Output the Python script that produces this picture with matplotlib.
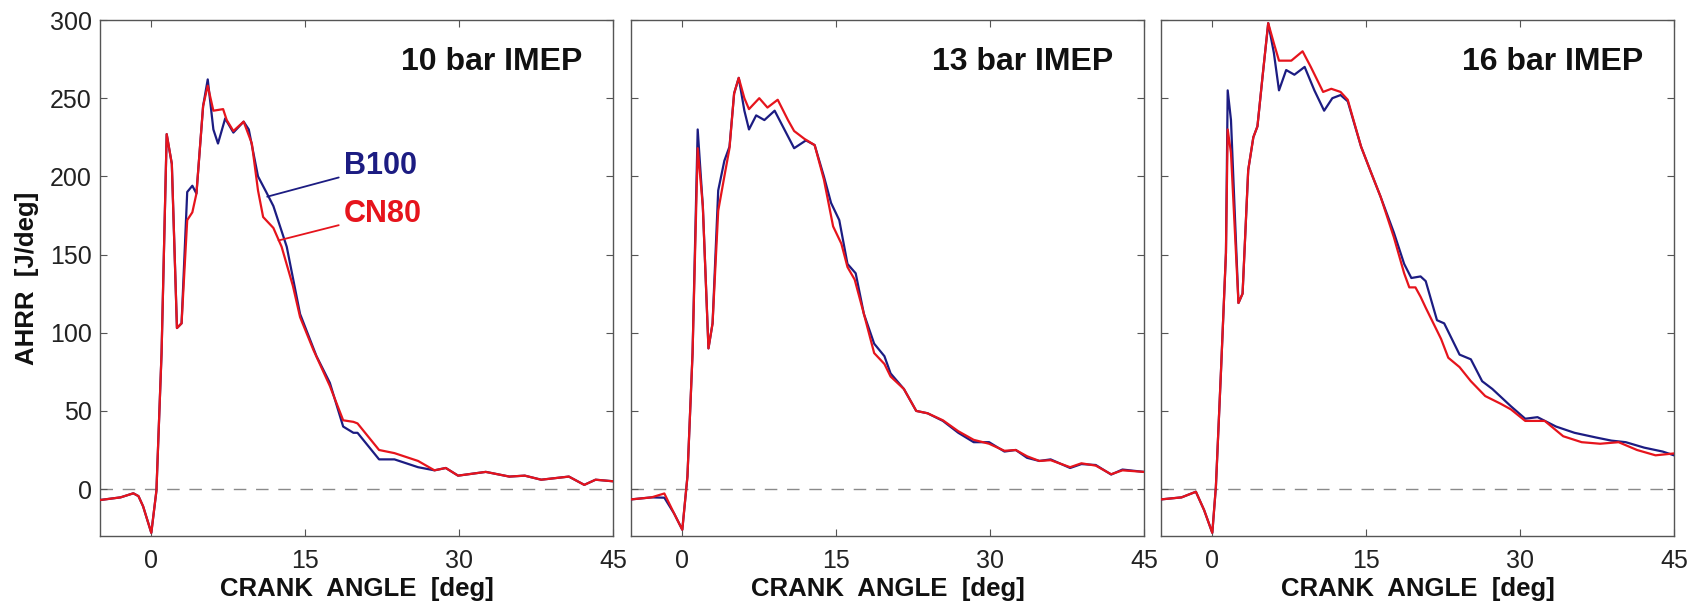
import matplotlib
matplotlib.use("Agg")
import matplotlib.pyplot as plt

plt.rcParams['font.family'] = ['Liberation Sans', 'DejaVu Sans']

BLUE, RED = "#1c1c82", "#e6141c"
SPINE = "#555555"

# ---- 10 bar IMEP ----------------------------------------------------------
ca10_b = [-5, -3, -1.75, -1.25, -0.8, 0, 0.5, 1.0, 1.5, 2.0, 2.5, 2.95, 3.5, 4.0, 4.4,
          5.05, 5.5, 6.05, 6.5, 7.2, 8.0, 9.0, 9.5, 10.4, 11.2, 11.9, 13.2, 14.5, 16.1,
          17.4, 18.7, 19.7, 20.1, 22.2, 23.7, 26.0, 27.6, 28.7, 29.9, 32.6, 34.9, 36.4,
          38.0, 40.7, 42.2, 43.3, 45]
hr10_b = [-7, -5.3, -2.7, -4.5, -11, -28, -1, 87, 227, 208, 103, 106, 190, 194, 189,
          245, 262, 230, 221, 237, 228, 235, 230, 200, 190, 181, 155, 112, 85,
          68, 40, 36, 36, 19, 19, 14, 12, 13.5, 8.6, 11, 8, 8.6,
          6, 8, 2.7, 6, 5]
ca10_r = [-5, -3, -1.75, -1.25, -0.8, 0, 0.5, 1.0, 1.5, 2.0, 2.5, 2.95, 3.5, 4.0, 4.4,
          5.05, 5.5, 6.05, 7.0, 7.35, 8.0, 9.0, 9.8, 10.4, 10.9, 11.9, 12.7, 13.8, 14.5,
          15.8, 17.4, 18.7, 19.7, 20.1, 22.2, 23.7, 26.0, 27.6, 28.7, 29.9, 32.6, 34.9,
          36.4, 38.0, 40.7, 42.2, 43.3, 45]
hr10_r = [-7, -5.3, -2.7, -4.5, -11, -28, -1, 87, 227, 208, 103, 106, 172, 177, 189,
          245, 258, 242, 243, 236, 229, 235, 221, 191, 174, 167, 155, 130, 110,
          89, 66, 44, 43, 42, 25, 23, 18, 12, 13.5, 8.6, 11, 8,
          8.6, 6, 8, 2.7, 6, 5]

# ---- 13 bar IMEP ----------------------------------------------------------
ca13_b = [-5, -3, -1.75, -0.8, 0, 0.5, 1.0, 1.5, 2.0, 2.55, 2.95, 3.5, 4.1, 4.6, 5.05,
          5.5, 6.05, 6.5, 7.2, 8.0, 9.0, 9.95, 10.9, 12.05, 12.9, 13.8, 14.5, 15.3, 16.1,
          16.9, 17.7, 18.7, 19.7, 20.3, 21.6, 22.8, 23.9, 25.4, 26.9, 28.4, 29.9, 31.4,
          32.5, 33.6, 34.8, 35.9, 37.8, 38.9, 40.3, 41.8, 42.9, 45]
hr13_b = [-6.6, -5.3, -5.5, -15.6, -26, 8, 87, 230, 181, 90, 106, 191, 210, 219, 253,
          263, 242, 230, 239, 236, 242, 230, 218, 223, 220, 200, 183, 172, 144,
          138, 112, 93, 85, 74, 64, 50, 48.5, 43.6, 36, 30, 30, 24,
          25, 20, 18, 19, 13.5, 16, 15.4, 9.3, 12.5, 11]
ca13_r = [-5, -3, -1.75, -0.8, 0, 0.5, 1.0, 1.5, 2.0, 2.55, 2.95, 3.5, 4.1, 4.6, 5.05,
          5.5, 6.05, 6.5, 7.5, 8.3, 9.3, 10.3, 10.9, 11.9, 12.9, 13.8, 14.7, 15.5, 16.1,
          16.8, 17.7, 18.7, 19.7, 20.3, 21.6, 22.8, 23.9, 25.4, 26.9, 28.4, 29.9, 31.4,
          32.5, 33.6, 34.8, 35.9, 37.8, 38.9, 40.3, 41.8, 42.9, 45]
hr13_r = [-6.6, -5.3, -2.8, -15.6, -26, 8, 87, 218, 181, 90, 106, 178, 200, 218, 253,
          263, 250, 243, 250, 244, 249, 236, 229, 224, 220, 198, 168, 157, 142,
          134, 112, 87, 80, 72, 64, 50, 48.5, 44, 37, 31.5, 29, 24.5,
          25, 21, 18, 18.5, 14, 16.5, 15, 9.5, 12, 11]

# ---- 16 bar IMEP ----------------------------------------------------------
ca16_b = [-5, -3, -1.6, -0.8, 0, 0.35, 0.85, 1.33, 1.5, 1.82, 2.55, 2.95, 3.5, 4.0, 4.4,
          4.9, 5.45, 6.0, 6.5, 7.2, 8.0, 9.0, 9.95, 10.9, 11.7, 12.5, 13.2, 14.5, 15.5,
          16.4, 17.7, 18.7, 19.4, 20.3, 20.8, 21.9, 22.6, 24.1, 25.2, 26.3, 27.3, 29.1,
          30.5, 31.7, 33.5, 35.3, 37.4, 38.9, 40.3, 42.1, 43.9, 45]
hr16_b = [-6.6, -5.3, -1.7, -13.4, -28, 1.5, 76, 151, 255, 236, 119, 125, 204, 225, 232,
          264, 298, 279, 255, 268, 265, 270, 255, 242, 250, 252, 248, 219, 202,
          187, 164, 144, 135, 136, 133, 108, 106, 86, 83, 69, 64, 53,
          45, 46, 40, 36, 33, 31, 30, 26.5, 24, 21.6]
ca16_r = [-5, -3, -1.6, -0.8, 0, 0.35, 0.85, 1.33, 1.5, 1.82, 2.55, 2.95, 3.5, 4.0, 4.4,
          4.9, 5.45, 6.05, 6.5, 7.7, 8.8, 9.6, 10.8, 11.6, 12.5, 13.2, 14.5, 15.5, 16.4,
          17.7, 18.7, 19.2, 19.8, 20.3, 20.8, 22.3, 23.0, 24.1, 25.2, 26.6, 28.1, 29.1,
          30.5, 32.4, 34.2, 36.0, 37.8, 39.6, 41.4, 43.2, 45]
hr16_r = [-6.6, -5.3, -1.7, -13.4, -28, 1.5, 76, 151, 230, 215, 119, 125, 204, 225, 232,
          264, 298, 284, 274, 274, 280, 270, 254, 256, 254, 249, 219, 202, 187,
          161, 138, 129, 129, 123, 116, 96, 84, 78, 69, 59.5, 54.6, 51,
          43.6, 43.6, 33.8, 30, 29, 30, 25, 21.6, 22.8]

panels = [("10 bar IMEP", ca10_b, hr10_b, ca10_r, hr10_r),
          ("13 bar IMEP", ca13_b, hr13_b, ca13_r, hr13_r),
          ("16 bar IMEP", ca16_b, hr16_b, ca16_r, hr16_r)]
lefts = [100, 631, 1161]   # axes left edges in pixels

fig = plt.figure(figsize=(16.98, 6.02), dpi=100)
axes = []
for i, (title, xb, yb, xr, yr) in enumerate(panels):
    ax = fig.add_axes([lefts[i] / 1698, 66 / 602, 513 / 1698, 516 / 602])
    axes.append(ax)
    ax.axhline(0, color="#8a8a8a", lw=1.0, dashes=(9, 7), zorder=1)
    ax.plot(xb, yb, color=BLUE, lw=1.6, zorder=3)
    ax.plot(xr, yr, color=RED, lw=1.6, zorder=3)
    ax.set_xlim(-5, 45)
    ax.set_ylim(-30, 300)
    ax.set_xticks([0, 15, 30, 45])
    ax.set_yticks([0, 50, 100, 150, 200, 250, 300])
    ax.tick_params(direction="in", length=5, width=0.8, top=True, right=True,
                   labelsize=18, colors="#222222", pad=6)
    ax.tick_params(axis="x", pad=9)
    ax.tick_params(color=SPINE)
    for s in ax.spines.values():
        s.set_color(SPINE)
        s.set_linewidth(1.0)
    if i > 0:
        ax.tick_params(labelleft=False)
    ax.text(42, 273, title, ha="right", va="center", fontsize=23,
            fontweight="bold", color="#111111")
    ax.set_xlabel("CRANK  ANGLE  [deg]", fontsize=18.5, fontweight="bold",
                  color="#111111", labelpad=3)

axes[0].set_ylabel("AHRR  [J/deg]", fontsize=18.5, fontweight="bold",
                   color="#111111", labelpad=8)

# curve labels on the first panel
axes[0].annotate("B100", xy=(11.3, 187), xytext=(18.8, 206.5), fontsize=22,
                 fontweight="bold", color=BLUE, va="center", ha="left",
                 arrowprops=dict(arrowstyle="-", color=BLUE, lw=1.3,
                                 shrinkA=2, shrinkB=0))
axes[0].annotate("CN80", xy=(12.4, 159), xytext=(18.8, 176), fontsize=22,
                 fontweight="bold", color=RED, va="center", ha="left",
                 arrowprops=dict(arrowstyle="-", color=RED, lw=1.3,
                                 shrinkA=2, shrinkB=0))

fig.savefig("out.png", dpi=100, facecolor="white")
